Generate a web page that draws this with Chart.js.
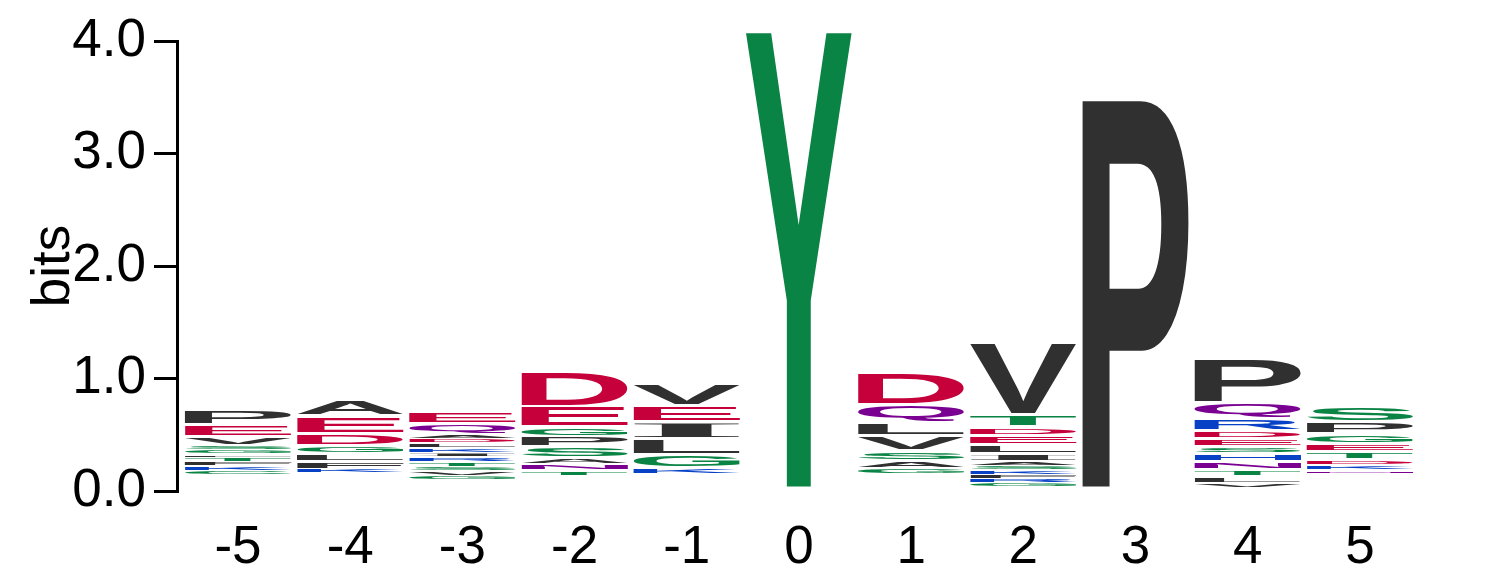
<!DOCTYPE html>
<html>
<head>
<meta charset="utf-8">
<script src="https://cdn.jsdelivr.net/npm/chart.js@4.4.1/dist/chart.umd.min.js"></script>
<style>
  html, body { margin: 0; padding: 0; background: #ffffff; }
  #wrap { width: 1486px; height: 583px; position: relative; }
</style>
</head>
<body>
<div id="wrap"><canvas id="logo"></canvas></div>
<script>
// ---------------- DATA ----------------
const positions = [-5, -4, -3, -2, -1, 0, 1, 2, 3, 4, 5];
const yTicks = [0, 1, 2, 3, 4];

// letters of each stack, listed from bottom to top
const lettersM5 = ['C','K','F','T','L','G','S','V','E','P'];
const lettersM4 = ['K','F','L','G','D','E','A'];
const lettersM3 = ['G','V','S','T','R','I','K','L','D','A','Q','E'];
const lettersM2 = ['T','N','A','S','P','G','E','D'];
const lettersM1 = ['K','G','L','I','E','V'];
const lettersP0 = ['Y'];
const lettersP1 = ['G','A','S','V','L','Q','D'];
const lettersP2 = ['G','R','F','K','S','A','I','L','E','D','T','V'];
const lettersP3 = ['P'];
const lettersP4 = ['V','L','T','N','H','S','E','D','R','Q','P'];
const lettersP5 = ['N','K','D','T','E','G','P','S'];

// heights (bits) of those letters, bottom to top
const bitsM5 = [0.036,0.044,0.036,0.044,0.027,0.036,0.036,0.077,0.109,0.127];
const bitsM4 = [0.031,0.067,0.067,0.076,0.107,0.154,0.142];
const bitsM3 = [0.036,0.044,0.036,0.044,0.044,0.040,0.040,0.044,0.044,0.031,0.093,0.104];
const bitsM2 = [0.042,0.059,0.057,0.098,0.094,0.084,0.183,0.306];
const bitsM1 = [0.062,0.118,0.140,0.148,0.142,0.198];
const bitsP0 = [4.08];
const bitsP1 = [0.053,0.074,0.089,0.128,0.118,0.163,0.288];
const bitsP2 = [0.036,0.040,0.031,0.044,0.036,0.036,0.071,0.080,0.083,0.075,0.109,0.646];
const bitsP3 = [3.50];
const bitsP4 = [0.040,0.058,0.062,0.068,0.074,0.065,0.068,0.068,0.109,0.140,0.394];
const bitsP5 = [0.027,0.044,0.044,0.068,0.074,0.089,0.104,0.133];

// many tiny residues at the bottom of each stack, too small to show
const minorBits = [0.133, 0.151, 0.089, 0.124, 0.133, 0.0, 0.133, 0.027, 0.0, 0.018, 0.151];

const stackLetters = [lettersM5, lettersM4, lettersM3, lettersM2, lettersM1, lettersP0,
                      lettersP1, lettersP2, lettersP3, lettersP4, lettersP5];
const stackBits = [bitsM5, bitsM4, bitsM3, bitsM2, bitsM1, bitsP0,
                   bitsP1, bitsP2, bitsP3, bitsP4, bitsP5];

// ---------------- COLOURS (chemistry scheme) ----------------
const colourGroups = [
  { letters: 'GSTYC', colour: '#0a8444' },
  { letters: 'QN', colour: '#7a0092' },
  { letters: 'KRH', colour: '#0742c6' },
  { letters: 'DE', colour: '#c6003a' },
  { letters: 'AVLIPWFM', colour: '#303030' }
];
function colourOf(ch) {
  for (const g of colourGroups) if (g.letters.includes(ch)) return g.colour;
  return '#303030';
}

// ---------------- DATASETS ----------------
const maxRank = Math.max(...stackLetters.map(s => s.length));
const datasets = [{
  label: 'minor',
  data: positions.map((p, i) => ({ x: p, y: minorBits[i] })),
  glyphs: null,
  backgroundColor: 'rgba(0,0,0,0)',
  borderWidth: 0,
  stack: 'logo'
}];
for (let r = 0; r < maxRank; r++) {
  datasets.push({
    label: 'rank ' + r,
    data: positions.map((p, i) => ({ x: p, y: stackBits[i][r] !== undefined ? stackBits[i][r] : 0 })),
    glyphs: positions.map((p, i) => stackLetters[i][r] || null),
    backgroundColor: 'rgba(0,0,0,0)',
    borderWidth: 0,
    stack: 'logo'
  });
}

// ---------------- GLYPH PLUGIN ----------------
function drawGlyph(ctx, ch, left, top, w, h, colour) {
  ctx.save();
  ctx.font = ch === 'I' ? 'bold 200px "Liberation Serif"' : 'bold 200px "Liberation Sans"';
  ctx.textAlign = 'left';
  ctx.textBaseline = 'alphabetic';
  const m = ctx.measureText(ch);
  const gl = m.actualBoundingBoxLeft, gr = m.actualBoundingBoxRight;
  const ga = m.actualBoundingBoxAscent, gd = m.actualBoundingBoxDescent;
  const gw = gl + gr, gh = ga + gd;
  ctx.translate(left, top);
  ctx.scale(w / gw, h / gh);
  ctx.fillStyle = colour;
  ctx.fillText(ch, gl, ga);
  ctx.restore();
}

const glyphPlugin = {
  id: 'glyphs',
  afterDatasetsDraw(chart) {
    const ctx = chart.ctx;
    chart.data.datasets.forEach((ds, di) => {
      if (!ds.glyphs) return;
      const meta = chart.getDatasetMeta(di);
      meta.data.forEach((bar, i) => {
        const ch = ds.glyphs[i];
        if (!ch) return;
        const p = bar.getProps(['x', 'y', 'base', 'width'], true);
        const h = p.base - p.y;
        if (h <= 0.5) return;
        const gap = Math.min(3, h * 0.45);
        drawGlyph(ctx, ch, p.x - p.width / 2, p.y, p.width, h - gap, colourOf(ch));
      });
    });
  }
};

// ---------------- CHART ----------------
const FONT = '"Liberation Sans", Arial, Helvetica, sans-serif';
new Chart(document.getElementById('logo'), {
  type: 'bar',
  data: { datasets },
  plugins: [glyphPlugin],
  options: {
    responsive: true,
    maintainAspectRatio: false,
    animation: false,
    devicePixelRatio: 1,
    layout: { padding: { left: 0, top: 41, right: 70, bottom: 7 } },
    plugins: { legend: { display: false }, tooltip: { enabled: false } },
    datasets: { bar: { barPercentage: 0.95, categoryPercentage: 1.0 } },
    scales: {
      x: {
        type: 'linear',
        stacked: true,
        offset: false,
        min: -5.544,
        max: 5.5,
        afterFit(scale) { scale.height = 85; },
        grid: { display: false, drawTicks: false },
        border: { display: false },
        ticks: {
          stepSize: 1,
          includeBounds: false,
          padding: 26,
          color: '#000000',
          font: { family: FONT, size: 53, lineHeight: 1.2 },
          callback: v => String(v)
        }
      },
      y: {
        stacked: true,
        min: 0,
        max: 4,
        afterFit(scale) { scale.width = 177; },
        afterBuildTicks(scale) { scale.ticks = yTicks.map(v => ({ value: v })); },
        grid: { drawOnChartArea: false, drawTicks: true, tickLength: 23, lineWidth: 3, color: '#000000' },
        border: { display: true, width: 3, color: '#000000' },
        ticks: {
          padding: 8,
          color: '#000000',
          font: { family: FONT, size: 53, lineHeight: 1.2 },
          callback: v => Number(v).toFixed(1)
        },
        title: {
          display: true,
          text: 'bits',
          color: '#000000',
          font: { family: FONT, size: 53, lineHeight: 1.2 },
          padding: { top: 23, bottom: 0 }
        }
      }
    }
  }
});
</script>
</body>
</html>
